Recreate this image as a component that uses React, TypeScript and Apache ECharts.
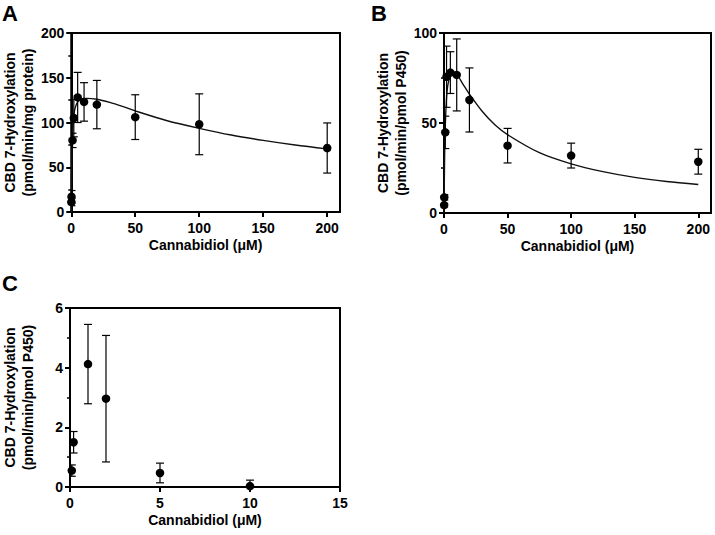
import React, { useEffect, useRef } from "react";
import * as echarts from "echarts";

// Cannabidiol concentrations (µM)
const concAB = [0.1, 0.2, 1, 2, 5, 10, 20, 50, 100, 200];
const concC = [0.1, 0.2, 1, 2, 5, 10];

// Panel A: pmol/min/mg protein
const rateA = [11, 17, 80, 105, 128, 123, 120, 106, 98, 71.5];
const errA = [4, 7, 8, 21, 28, 21.5, 27, 25, 34, 28];
// Panel B: pmol/min/pmol P450
const rateB = [4.4, 8.7, 44.8, 75.7, 78, 76.7, 62.8, 37.4, 31.9, 28.5];
const errB = [1, 1.5, 9, 17, 11.6, 20, 17.8, 9.6, 6.9, 6.9];
// Panel C: pmol/min/pmol P450
const rateC = [0.55, 1.5, 4.12, 2.96, 0.47, 0.03];
const errC = [0.19, 0.36, 1.33, 2.12, 0.33, 0.2];

// Fitted curves
const curveAx = [0, 0.25, 0.5, 1, 2, 3, 5, 8, 12, 20, 30, 40, 50, 75, 100, 125, 150, 175, 200];
const curveAy = [0, 40, 62, 90, 108, 116, 123, 126.5, 127, 126, 122.5, 118, 113, 102, 93.5, 86, 80, 74.8, 70.5];
const curveBx = [0, 0.5, 1, 2, 3, 5, 7, 10, 15, 20, 30, 40, 50, 75, 100, 125, 150, 175, 200];
const curveBy = [0, 32, 48, 64, 71, 76.5, 78, 77, 71.5, 66, 56.5, 49, 43.5, 33.5, 27.3, 23, 19.8, 17.5, 15.8];

const xTicksAB = [0, 50, 100, 150, 200];
const xTicksC = [0, 5, 10, 15];

const FONT = "'Liberation Sans', Arial, Helvetica, sans-serif";
const INK = "#000";

function xAxisDef(gridIndex: number, max: number, ticks: number[]) {
  return {
    type: "value",
    gridIndex,
    min: 0,
    max,
    name: "Cannabidiol (\u03bcM)",
    nameLocation: "middle",
    nameGap: 26,
    nameTextStyle: { fontFamily: FONT, fontWeight: "bold", fontSize: 14, color: INK },
    axisLine: { show: true, onZero: false, lineStyle: { color: INK, width: 2 } },
    axisTick: { show: true, length: 5, customValues: ticks, lineStyle: { color: INK, width: 2 } },
    axisLabel: { customValues: ticks, margin: 9, fontFamily: FONT, fontWeight: "bold", fontSize: 14, color: INK },
    splitLine: { show: false },
  };
}

function yAxisDef(gridIndex: number, max: number, interval: number, name: string) {
  return {
    type: "value",
    gridIndex,
    min: 0,
    max,
    interval,
    name,
    nameLocation: "middle",
    nameRotate: 90,
    nameGap: 33,
    nameTextStyle: { fontFamily: FONT, fontWeight: "bold", fontSize: 14, lineHeight: 18, color: INK },
    axisLine: { show: true, onZero: false, lineStyle: { color: INK, width: 2 } },
    axisTick: { show: true, length: 5, lineStyle: { color: INK, width: 2 } },
    minorTick: { show: true, splitNumber: 2, length: 3, lineStyle: { color: INK, width: 1.5 } },
    axisLabel: { margin: 7, fontFamily: FONT, fontWeight: "bold", fontSize: 14, color: INK },
    splitLine: { show: false },
    minorSplitLine: { show: false },
  };
}

function errorSeries(idx: number, xs: number[], ys: number[], es: number[]) {
  return {
    type: "custom",
    xAxisIndex: idx,
    yAxisIndex: idx,
    clip: true,
    z: 3,
    data: xs.map((x, i) => [x, ys[i], es[i]]),
    renderItem: (params: any, api: any) => {
      const x = api.value(0);
      const y = api.value(1);
      const e = api.value(2);
      const hi = api.coord([x, y + e]);
      const lo = api.coord([x, y - e]);
      const cap = 4;
      const style = { stroke: INK, lineWidth: 1.2 };
      return {
        type: "group",
        children: [
          { type: "line", shape: { x1: hi[0], y1: hi[1], x2: lo[0], y2: lo[1] }, style },
          { type: "line", shape: { x1: hi[0] - cap, y1: hi[1], x2: hi[0] + cap, y2: hi[1] }, style },
          { type: "line", shape: { x1: lo[0] - cap, y1: lo[1], x2: lo[0] + cap, y2: lo[1] }, style },
        ],
      };
    },
  };
}

function pointSeries(idx: number, xs: number[], ys: number[]) {
  return {
    type: "scatter",
    xAxisIndex: idx,
    yAxisIndex: idx,
    symbol: "circle",
    symbolSize: 8.5,
    z: 4,
    itemStyle: { color: INK, opacity: 1 },
    data: xs.map((x, i) => [x, ys[i]]),
  };
}

function curveSeries(idx: number, xs: number[], ys: number[]) {
  return {
    type: "line",
    xAxisIndex: idx,
    yAxisIndex: idx,
    showSymbol: false,
    symbol: "none",
    smooth: 0.3,
    z: 2,
    lineStyle: { color: "#111", width: 1.4 },
    data: xs.map((x, i) => [x, ys[i]]),
  };
}

export default function App() {
  const ref = useRef<HTMLDivElement>(null);
  useEffect(() => {
    if (!ref.current) return;
    const chart = echarts.init(ref.current, undefined, { renderer: "svg" });
    const gridStyle = { show: true, borderColor: INK, borderWidth: 2, backgroundColor: "transparent" };
    chart.setOption({
      animation: false,
      backgroundColor: "#fff",
      textStyle: { fontFamily: FONT },
      grid: [
        { left: 70, top: 33, width: 270, height: 179, ...gridStyle },
        { left: 444, top: 33, width: 267, height: 180, ...gridStyle },
        { left: 70, top: 308, width: 270, height: 179, ...gridStyle },
      ],
      xAxis: [xAxisDef(0, 210, xTicksAB), xAxisDef(1, 210, xTicksAB), xAxisDef(2, 15, xTicksC)],
      yAxis: [
        yAxisDef(0, 200, 50, "CBD 7-Hydroxylation\n(pmol/min/mg protein)"),
        yAxisDef(1, 100, 50, "CBD 7-Hydroxylation\n(pmol/min/pmol P450)"),
        yAxisDef(2, 6, 2, "CBD 7-Hydroxylation\n(pmol/min/pmol P450)"),
      ],
      graphic: [
        { type: "text", left: 2, top: 2, style: { text: "A", font: `bold 22px ${FONT}`, fill: INK } },
        { type: "text", left: 371, top: 2, style: { text: "B", font: `bold 22px ${FONT}`, fill: INK } },
        { type: "text", left: 2, top: 272, style: { text: "C", font: `bold 22px ${FONT}`, fill: INK } },
      ],
      series: [
        curveSeries(0, curveAx, curveAy),
        errorSeries(0, concAB, rateA, errA),
        pointSeries(0, concAB, rateA),
        curveSeries(1, curveBx, curveBy),
        errorSeries(1, concAB, rateB, errB),
        pointSeries(1, concAB, rateB),
        errorSeries(2, concC, rateC, errC),
        pointSeries(2, concC, rateC),
      ],
    });
    return () => chart.dispose();
  }, []);
  return (
    <div
      ref={ref}
      style={{ position: "fixed", left: 0, top: 0, width: 715, height: 535, background: "#fff" }}
    />
  );
}
